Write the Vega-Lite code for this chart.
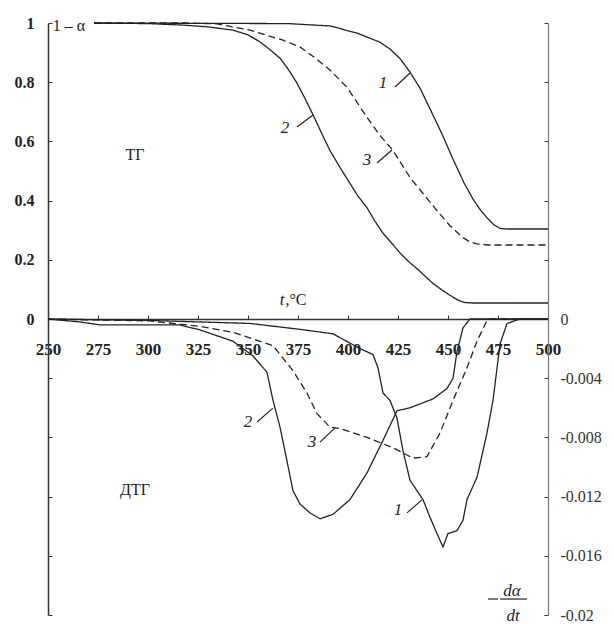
{
  "$schema": "https://vega.github.io/schema/vega-lite/v6.json",
  "width": 500,
  "height": 592,
  "autosize": {"type": "none"},
  "padding": {"left": 48, "top": 23, "right": 66, "bottom": 9},
  "background": "white",
  "config": {
    "view": {"stroke": null},
    "axis": {"grid": false, "labelFont": "Liberation Serif", "domainColor": "#333", "tickColor": "#333", "labelColor": "#222"}
  },
  "datasets": {
    "tg": [
      {"T": 273, "v": 1.0, "c": "1"}, {"T": 370, "v": 0.998, "c": "1"}, {"T": 391, "v": 0.99, "c": "1"}, {"T": 404.5, "v": 0.966, "c": "1"}, {"T": 416, "v": 0.935, "c": "1"}, {"T": 421, "v": 0.912, "c": "1"}, {"T": 426, "v": 0.88, "c": "1"}, {"T": 431, "v": 0.834, "c": "1"}, {"T": 436, "v": 0.78, "c": "1"}, {"T": 441, "v": 0.71, "c": "1"}, {"T": 447, "v": 0.625, "c": "1"}, {"T": 452.5, "v": 0.54, "c": "1"}, {"T": 458, "v": 0.46, "c": "1"}, {"T": 462.5, "v": 0.405, "c": "1"}, {"T": 466, "v": 0.37, "c": "1"}, {"T": 469.5, "v": 0.342, "c": "1"}, {"T": 473, "v": 0.318, "c": "1"}, {"T": 476, "v": 0.306, "c": "1"}, {"T": 480, "v": 0.304, "c": "1"}, {"T": 500, "v": 0.304, "c": "1"},
      {"T": 273, "v": 1.0, "c": "2"}, {"T": 300, "v": 0.998, "c": "2"}, {"T": 317.5, "v": 0.993, "c": "2"}, {"T": 330, "v": 0.987, "c": "2"}, {"T": 342.5, "v": 0.976, "c": "2"}, {"T": 350, "v": 0.96, "c": "2"}, {"T": 356, "v": 0.936, "c": "2"}, {"T": 361, "v": 0.91, "c": "2"}, {"T": 366, "v": 0.881, "c": "2"}, {"T": 370, "v": 0.845, "c": "2"}, {"T": 374.5, "v": 0.797, "c": "2"}, {"T": 378.5, "v": 0.745, "c": "2"}, {"T": 382.5, "v": 0.69, "c": "2"}, {"T": 387, "v": 0.625, "c": "2"}, {"T": 391, "v": 0.569, "c": "2"}, {"T": 396, "v": 0.512, "c": "2"}, {"T": 401, "v": 0.458, "c": "2"}, {"T": 405, "v": 0.415, "c": "2"}, {"T": 409.5, "v": 0.376, "c": "2"}, {"T": 413.5, "v": 0.33, "c": "2"}, {"T": 417.5, "v": 0.29, "c": "2"}, {"T": 422, "v": 0.255, "c": "2"}, {"T": 426, "v": 0.223, "c": "2"}, {"T": 430, "v": 0.196, "c": "2"}, {"T": 434.5, "v": 0.17, "c": "2"}, {"T": 438.5, "v": 0.145, "c": "2"}, {"T": 442.5, "v": 0.12, "c": "2"}, {"T": 447, "v": 0.098, "c": "2"}, {"T": 451, "v": 0.08, "c": "2"}, {"T": 455, "v": 0.064, "c": "2"}, {"T": 458, "v": 0.056, "c": "2"}, {"T": 462, "v": 0.054, "c": "2"}, {"T": 500, "v": 0.054, "c": "2"},
      {"T": 273, "v": 1.0, "c": "3"}, {"T": 320, "v": 1.0, "c": "3"}, {"T": 334.5, "v": 0.997, "c": "3"}, {"T": 351, "v": 0.976, "c": "3"}, {"T": 367.5, "v": 0.942, "c": "3"}, {"T": 376, "v": 0.919, "c": "3"}, {"T": 384, "v": 0.88, "c": "3"}, {"T": 391, "v": 0.841, "c": "3"}, {"T": 399.5, "v": 0.783, "c": "3"}, {"T": 409.5, "v": 0.681, "c": "3"}, {"T": 416, "v": 0.62, "c": "3"}, {"T": 422.5, "v": 0.569, "c": "3"}, {"T": 431, "v": 0.478, "c": "3"}, {"T": 438, "v": 0.42, "c": "3"}, {"T": 444.5, "v": 0.366, "c": "3"}, {"T": 451, "v": 0.315, "c": "3"}, {"T": 457.5, "v": 0.275, "c": "3"}, {"T": 461, "v": 0.26, "c": "3"}, {"T": 464.5, "v": 0.254, "c": "3"}, {"T": 470, "v": 0.25, "c": "3"}, {"T": 500, "v": 0.25, "c": "3"}
    ],
    "dtg": [
      {"T": 250, "d": 0, "c": "1"}, {"T": 301, "d": -0.0001, "c": "1"}, {"T": 351, "d": -0.0003, "c": "1"}, {"T": 376, "d": -0.0007, "c": "1"}, {"T": 392.5, "d": -0.001, "c": "1"}, {"T": 406, "d": -0.002, "c": "1"}, {"T": 412.5, "d": -0.0024, "c": "1"}, {"T": 415, "d": -0.0033, "c": "1"}, {"T": 417.5, "d": -0.005, "c": "1"}, {"T": 421, "d": -0.0055, "c": "1"}, {"T": 424.5, "d": -0.0067, "c": "1"}, {"T": 427.5, "d": -0.0089, "c": "1"}, {"T": 431, "d": -0.0109, "c": "1"}, {"T": 434.5, "d": -0.0116, "c": "1"}, {"T": 437.5, "d": -0.0122, "c": "1"}, {"T": 441, "d": -0.0134, "c": "1"}, {"T": 444.5, "d": -0.0145, "c": "1"}, {"T": 447.5, "d": -0.0154, "c": "1"}, {"T": 450, "d": -0.0145, "c": "1"}, {"T": 454.5, "d": -0.0143, "c": "1"}, {"T": 457.5, "d": -0.0136, "c": "1"}, {"T": 459.5, "d": -0.0122, "c": "1"}, {"T": 464.5, "d": -0.0107, "c": "1"}, {"T": 469.5, "d": -0.0077, "c": "1"}, {"T": 472.5, "d": -0.0055, "c": "1"}, {"T": 476, "d": -0.0017, "c": "1"}, {"T": 479.5, "d": -0.0003, "c": "1"}, {"T": 486, "d": 0, "c": "1"}, {"T": 500, "d": 0, "c": "1"},
      {"T": 250, "d": 0, "c": "2"}, {"T": 266, "d": -0.0002, "c": "2"}, {"T": 276, "d": -0.0004, "c": "2"}, {"T": 316, "d": -0.0004, "c": "2"}, {"T": 326, "d": -0.00074, "c": "2"}, {"T": 342.5, "d": -0.0015, "c": "2"}, {"T": 352.5, "d": -0.0025, "c": "2"}, {"T": 359.5, "d": -0.0036, "c": "2"}, {"T": 362.5, "d": -0.0055, "c": "2"}, {"T": 366, "d": -0.0073, "c": "2"}, {"T": 369.5, "d": -0.0096, "c": "2"}, {"T": 372.5, "d": -0.0116, "c": "2"}, {"T": 376, "d": -0.0125, "c": "2"}, {"T": 381, "d": -0.0131, "c": "2"}, {"T": 386, "d": -0.0135, "c": "2"}, {"T": 392.5, "d": -0.0132, "c": "2"}, {"T": 401, "d": -0.0122, "c": "2"}, {"T": 409.5, "d": -0.0104, "c": "2"}, {"T": 417.5, "d": -0.0082, "c": "2"}, {"T": 424.5, "d": -0.0062, "c": "2"}, {"T": 431, "d": -0.006, "c": "2"}, {"T": 442.5, "d": -0.0054, "c": "2"}, {"T": 449.5, "d": -0.0047, "c": "2"}, {"T": 452.5, "d": -0.004, "c": "2"}, {"T": 454.5, "d": -0.0022, "c": "2"}, {"T": 457.5, "d": -0.0006, "c": "2"}, {"T": 461, "d": 0, "c": "2"}, {"T": 500, "d": 0, "c": "2"},
      {"T": 250, "d": 0, "c": "3"}, {"T": 301, "d": -0.00013, "c": "3"}, {"T": 326, "d": -0.0005, "c": "3"}, {"T": 342.5, "d": -0.0009, "c": "3"}, {"T": 362.5, "d": -0.0018, "c": "3"}, {"T": 372.5, "d": -0.0035, "c": "3"}, {"T": 379.5, "d": -0.005, "c": "3"}, {"T": 384.5, "d": -0.0064, "c": "3"}, {"T": 391, "d": -0.0073, "c": "3"}, {"T": 396, "d": -0.0074, "c": "3"}, {"T": 409.5, "d": -0.008, "c": "3"}, {"T": 422.5, "d": -0.0087, "c": "3"}, {"T": 432.5, "d": -0.0094, "c": "3"}, {"T": 439.5, "d": -0.0093, "c": "3"}, {"T": 446, "d": -0.0077, "c": "3"}, {"T": 452.5, "d": -0.0055, "c": "3"}, {"T": 459.5, "d": -0.0033, "c": "3"}, {"T": 464.5, "d": -0.0015, "c": "3"}, {"T": 469.5, "d": -0.0001, "c": "3"}, {"T": 471, "d": 0, "c": "3"}, {"T": 500, "d": 0, "c": "3"}
    ],
    "plainText": [
      {"T": 260.5, "v": 0.99, "label": "1 – α"},
      {"T": 293.5, "v": 0.554, "label": "ТГ"},
      {"T": 293.5, "v": -0.578, "label": "ДТГ"},
      {"T": 374, "v": 0.064, "label": ",°C"}
    ],
    "italicText": [
      {"T": 367, "v": 0.064, "label": "t"},
      {"T": 417.5, "v": 0.797, "label": "1"},
      {"T": 368.5, "v": 0.645, "label": "2"},
      {"T": 409.5, "v": 0.537, "label": "3"},
      {"T": 350, "v": -0.348, "label": "2"},
      {"T": 382, "v": -0.416, "label": "3"},
      {"T": 425, "v": -0.645, "label": "1"},
      {"T": 482, "v": -0.919, "label": "dα"},
      {"T": 482.5, "v": -1.005, "label": "dt"}
    ],
    "leaders": [
      {"T": 423.5, "T2": 431, "v": 0.784, "v2": 0.831},
      {"T": 374.5, "T2": 382.5, "v": 0.649, "v2": 0.689},
      {"T": 414.5, "T2": 422, "v": 0.527, "v2": 0.571},
      {"T": 354.5, "T2": 362.5, "v": -0.348, "v2": -0.301},
      {"T": 386, "T2": 393.5, "v": -0.416, "v2": -0.368},
      {"T": 429.5, "T2": 437, "v": -0.655, "v2": -0.611},
      {"T": 476, "T2": 489.5, "v": -0.946, "v2": -0.946},
      {"T": 470, "T2": 475, "v": -0.946, "v2": -0.946}
    ]
  },
  "layer": [
    {
      "data": {"name": "tg"},
      "mark": {"type": "line", "color": "#222", "strokeWidth": 1.3},
      "encoding": {
        "x": {"field": "T", "type": "quantitative", "title": null, "scale": {"domain": [250, 500], "nice": false, "zero": false},
          "axis": {"orient": "bottom", "offset": -296, "values": [250, 275, 300, 325, 350, 375, 400, 425, 450, 475, 500], "tickSize": -4, "labelPadding": 26, "labelFontSize": 17, "labelFontWeight": "bold", "labelFlush": false, "domainWidth": 1.5, "title": null}},
        "y": {"field": "v", "type": "quantitative", "title": null, "scale": {"domain": [-1, 1], "nice": false, "zero": false},
          "axis": {"orient": "left", "values": [-1, -0.8, -0.6, -0.4, -0.2, 0, 0.2, 0.4, 0.6, 0.8, 1], "labelExpr": "datum.value < -0.01 ? '' : datum.value > 0.99 ? '1' : datum.value < 0.01 ? '0' : format(datum.value, '.1f')", "tickSize": -4, "labelPadding": 18, "labelFontSize": 16, "labelFontWeight": "bold", "domainWidth": 1.5, "labelFlush": false, "title": null}},
        "detail": {"field": "c", "type": "nominal"},
        "strokeDash": {"field": "c", "type": "nominal", "scale": {"domain": ["1", "2", "3"], "range": [[1, 0], [1, 0], [7, 4]]}, "legend": null}
      }
    },
    {
      "data": {"name": "dtg"},
      "mark": {"type": "line", "color": "#222", "strokeWidth": 1.3},
      "encoding": {
        "x": {"field": "T", "type": "quantitative", "title": null, "scale": {"domain": [250, 500], "nice": false, "zero": false}},
        "y": {"field": "d", "type": "quantitative", "title": null, "scale": {"domain": [-0.02, 0.02], "nice": false, "zero": false},
          "axis": {"orient": "right", "values": [-0.02, -0.016, -0.012, -0.008, -0.004, 0, 0.004, 0.008, 0.012, 0.016, 0.02], "labelExpr": "abs(datum.value) < 0.0001 ? '0' : datum.value > 0 ? '' : '-' + format(-datum.value, '.3~f')", "tickSize": -4, "labelPadding": 16, "labelFontSize": 16, "labelColor": "#333", "domainWidth": 1.2, "domainColor": "#777", "labelFlush": false, "title": null}},
        "detail": {"field": "c", "type": "nominal"},
        "strokeDash": {"field": "c", "type": "nominal", "scale": {"domain": ["1", "2", "3"], "range": [[1, 0], [1, 0], [7, 4]]}, "legend": null}
      }
    },
    {
      "data": {"name": "leaders"},
      "mark": {"type": "rule", "color": "#222", "strokeWidth": 1.2},
      "encoding": {
        "x": {"field": "T", "type": "quantitative", "title": null, "scale": {"domain": [250, 500], "nice": false, "zero": false}},
        "x2": {"field": "T2"},
        "y": {"field": "v", "type": "quantitative", "scale": {"domain": [-1, 1], "nice": false, "zero": false}, "axis": null},
        "y2": {"field": "v2"}
      }
    },
    {
      "data": {"name": "plainText"},
      "mark": {"type": "text", "font": "Liberation Serif", "fontSize": 16, "color": "#222", "baseline": "middle", "align": "center"},
      "encoding": {
        "x": {"field": "T", "type": "quantitative", "title": null, "scale": {"domain": [250, 500], "nice": false, "zero": false}},
        "y": {"field": "v", "type": "quantitative", "scale": {"domain": [-1, 1], "nice": false, "zero": false}, "axis": null},
        "text": {"field": "label"}
      }
    },
    {
      "data": {"name": "italicText"},
      "mark": {"type": "text", "font": "Liberation Serif", "fontSize": 17, "fontStyle": "italic", "color": "#222", "baseline": "middle", "align": "center"},
      "encoding": {
        "x": {"field": "T", "type": "quantitative", "title": null, "scale": {"domain": [250, 500], "nice": false, "zero": false}},
        "y": {"field": "v", "type": "quantitative", "scale": {"domain": [-1, 1], "nice": false, "zero": false}, "axis": null},
        "text": {"field": "label"}
      }
    }
  ],
  "resolve": {"scale": {"y": "independent"}, "axis": {"y": "independent"}}
}
